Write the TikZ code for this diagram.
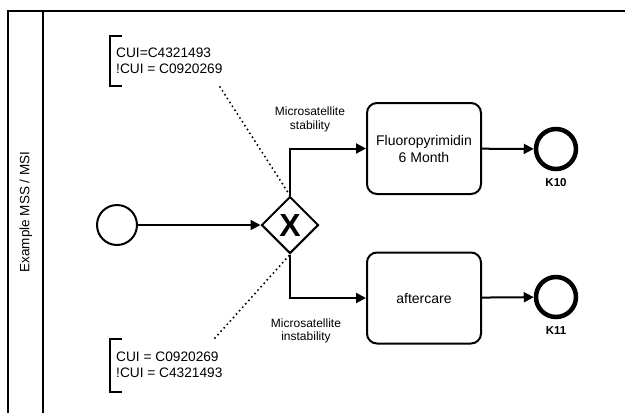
\documentclass[tikz,border=0pt]{standalone}
\usepackage{fontspec}
\setmainfont{Liberation Sans}
\usetikzlibrary{shapes.geometric}
\usetikzlibrary{arrows.meta}
\usetikzlibrary{positioning}
\tikzset{
    flow/.style={draw=black, line width=2pt, -{Triangle[length=10pt,width=10pt]}},
    assoc/.style={draw=black, line width=2.2pt, line cap=round, dash pattern=on 0pt off 4.6pt},
    task/.style={draw=black, line width=2pt, rounded corners=10pt, minimum width=114pt,
        minimum height=91pt, align=center, inner sep=0pt, font=\fontsize{14}{17}\selectfont},
    startev/.style={circle, draw=black, line width=2pt, minimum size=40pt, inner sep=0pt},
    endev/.style={circle, draw=black, line width=4.5pt, minimum size=40pt, inner sep=0pt},
    xgate/.style={diamond, draw=black, line width=2pt, minimum width=57pt, minimum height=57pt,
        inner sep=0pt, font=\bfseries\fontsize{32}{32}\selectfont},
    small/.style={font=\fontsize{12}{13.5}\selectfont, align=center, inner sep=1pt},
    endlabel/.style={font=\bfseries\fontsize{11.5}{13}\selectfont, inner sep=1pt},
    note/.style={font=\fontsize{13.7}{16.5}\selectfont, align=left, anchor=west, inner sep=0pt},
    lane/.style={draw=black, line width=2pt}
}

\begin{document}
\begin{tikzpicture}[x=1pt, y=-1pt]
\useasboundingbox (0,0) rectangle (625,413);
% pool and lane
\draw[style={lane}] (8,413) |- (625,11);
\draw[style={lane}] (43,11) -- (43,413);
\node[rotate=90, font=\fontsize{13.5}{15}\selectfont] (poolname) at (26,212) {Example MSS / MSI};

% events, gateway, tasks
\node[startev] (start) at (117,225) {};
\node[xgate] (gw) at (290,225) {X};
\node[task] (t1) at (424,148.5) {Fluoropyrimidin\\6 Month};
\node[task] (t2) at (424,298) {aftercare};
\node[endev] (e1) at (556,149) {};
\node[endev] (e2) at (556,297) {};
\node[endlabel, below=6pt of e1] (k10) {K10};
\node[endlabel, below=6pt of e2] (k11) {K11};

% sequence flows
\draw[style={flow}] (start) -- (gw);
\draw[style={flow}] (gw.north) |- (t1.west);
\draw[style={flow}] (gw.south) |- (t2.west);
\draw[style={flow}] (t1) -- (e1);
\draw[style={flow}] (t2) -- (e2);
\node[small] (lstab) at (310,119.5) {Microsatellite\\stability};
\node[small] (linstab) at (306,331) {Microsatellite\\instability};

% annotations
\node[note] (n1) at (116,61) {CUI=C4321493\\!CUI = C0920269};
\draw[line width=2pt] (122,36) -| (110,86) -- (122,86);
\coordinate (n1end) at (220,87);
\draw[style={assoc}] (n1end) -- (gw.north);

\node[note] (n2) at (116,365) {CUI = C0920269\\!CUI = C4321493};
\draw[line width=2pt] (122,339) -| (110,392) -- (122,392);
\coordinate (n2end) at (215,338);
\draw[style={assoc}] (n2end) -- (gw.south);
\end{tikzpicture}
\end{document}
